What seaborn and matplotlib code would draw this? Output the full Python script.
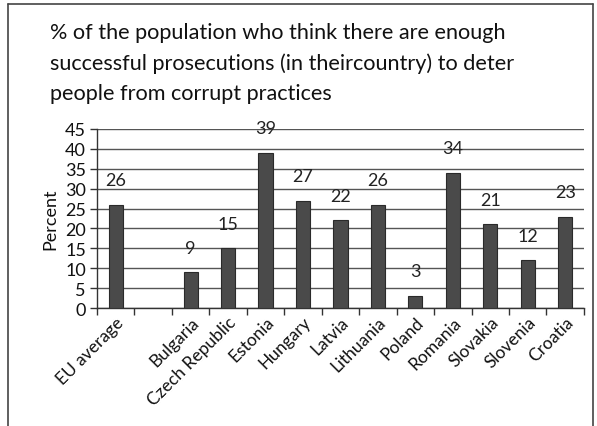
import numpy as np
import pandas as pd
import matplotlib
matplotlib.use("Agg")
import matplotlib.pyplot as plt
import seaborn as sns

# Survey results by country (blank slot separates the EU average)
categories = ["EU average", " ", "Bulgaria", "Czech Republic", "Estonia", "Hungary",
              "Latvia", "Lithuania", "Poland", "Romania", "Slovakia", "Slovenia", "Croatia"]
values = [26, np.nan, 9, 15, 39, 27, 22, 26, 3, 34, 21, 12, 23]
y_ticks = [0, 5, 10, 15, 20, 25, 30, 35, 40, 45]

title = ("% of the population who think there are enough\n"
         "successful prosecutions (in theircountry) to deter\n"
         "people from corrupt practices")

sns.set_theme(style="white")
plt.rcParams["font.family"] = ["Lato", "DejaVu Sans"]

df = pd.DataFrame({"country": categories, "percent": values})

fig = plt.figure(figsize=(5.97, 4.27), dpi=100)
ax = fig.add_axes([0.1625, 0.2763, 0.8155, 0.4193])

sns.barplot(data=df, x="country", y="percent", order=categories, ax=ax,
            color="#4a4a4a", edgecolor="#2a2a2a", linewidth=0.8,
            width=0.38, saturation=1, zorder=3)

ax.set_ylim(0, 45)
ax.set_xlim(-0.5, len(categories) - 0.5)
ax.set_yticks(y_ticks)
ax.set_yticklabels([str(t) for t in y_ticks], fontsize=13, color="#111111")
ax.yaxis.grid(True, color="#555555", linewidth=1.0, zorder=0)
ax.set_axisbelow(True)

# x ticks sit on the category boundaries; labels at the category centres
ax.set_xticks(np.arange(len(categories) + 1) - 0.5, minor=False)
ax.set_xticklabels([])
ax.set_xticks(np.arange(len(categories)), minor=True)
ax.set_xticklabels(categories, minor=True, rotation=45, ha="right",
                   rotation_mode="anchor", fontsize=12.5, color="#111111")
ax.tick_params(axis="x", which="major", direction="out", length=5, width=1,
               color="#333333", bottom=True)
ax.tick_params(axis="x", which="minor", length=0, pad=4, bottom=True)
ax.tick_params(axis="y", direction="out", length=5, width=1, color="#333333",
               left=True, pad=3)

ax.set_xlabel("")
ax.set_ylabel("Percent", fontsize=13, color="#111111", labelpad=5)

for s in ["top", "right"]:
    ax.spines[s].set_visible(False)
for s in ["left", "bottom"]:
    ax.spines[s].set_color("#333333")
    ax.spines[s].set_linewidth(1.0)

# value labels above the bars
for i, v in enumerate(values):
    if not np.isnan(v):
        ax.annotate(f"{v:g}", (i, v), xytext=(0, 12), textcoords="offset points",
                    ha="center", va="bottom", fontsize=13, color="#222222")

fig.text(0.084, 0.945, title, fontsize=15.6, color="#111111", va="top", ha="left",
         linespacing=1.6)

# outer frame around the figure
for (x0, y0, x1, y1) in [(0.014, 0.0, 0.014, 0.988), (0.014, 0.988, 0.994, 0.988),
                         (0.994, 0.988, 0.994, 0.0)]:
    fig.add_artist(plt.Line2D([x0, x1], [y0, y1], color="#444444", linewidth=1.2))

fig.savefig("out.png", dpi=100)
